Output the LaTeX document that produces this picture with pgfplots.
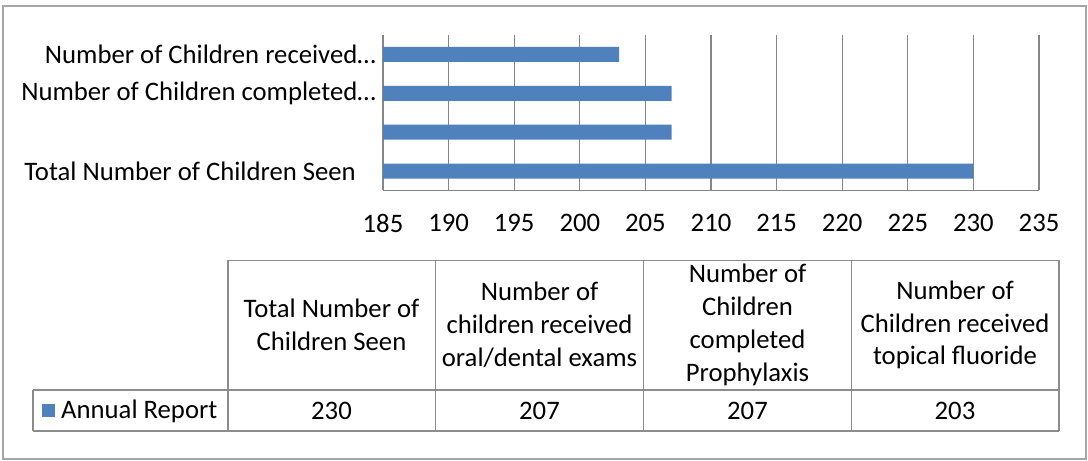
\documentclass[border=0pt]{standalone}
\usepackage{fontspec}
\setmainfont{Carlito}
\usepackage{pgfplots}
\pgfplotsset{compat=1.18}
\definecolor{barblue}{HTML}{4F81BD}
\definecolor{gridgray}{HTML}{868686}
\definecolor{tablegray}{HTML}{8C8C8C}
\definecolor{framegray}{HTML}{A6A6A6}
\newcommand\lbl{\fontsize{26.8}{33}\selectfont}

\begin{document}
\begin{tikzpicture}[x=1bp,y=-1bp]
\path (0,0) rectangle (1088,461);
\draw[framegray, line width=1.3bp] (3,6) rectangle (1086,459);
\begin{axis}[
  at={(383bp,-190.5bp)}, anchor=south west,
  scale only axis, width=656bp, height=155.5bp,
  xmin=185, xmax=235,
  xtick={185,190,195,200,205,210,215,220,225,230,235},
  ymin=-0.5, ymax=3.5, ytick=\empty,
  xmajorgrids, grid style={gridgray, line width=1.1bp},
  axis x line*=bottom, axis y line*=left,
  axis line style={gridgray, line width=1.1bp, -},
  major tick length=0,
  tick label style={font=\lbl},
  xticklabel style={yshift=-20bp},
  /pgf/number format/assume math mode=true,
  xbar, bar width=15bp,
]
\addplot[fill=barblue, draw=none] coordinates {(230,0) (207,1) (207,2) (203,3)};
\end{axis}

% category labels (Excel leaves the second one out)
\begin{scope}[every node/.style={anchor=east, inner sep=0pt, font=\lbl}]
\node at (376,54.4) {Number of Children received…};
\node at (376,93.3) {Number of Children completed…};
\node at (356,171) {Total Number of Children Seen};
\end{scope}

% data table
\begin{scope}[tablegray, line width=1.3bp]
\draw (228,260.5) -- (1059,260.5);
\draw (33,390) -- (1059,390);
\draw (33,431) -- (1059,431);
\draw (33,390) -- (33,431);
\foreach \x in {228,435.5,643.5,851.5,1059} \draw (\x,260.5) -- (\x,431);
\end{scope}
\begin{scope}[every node/.style={align=center, inner sep=0pt, font=\lbl}]
\node at (331.5,325) {Total Number of\\Children Seen};
\node at (539.5,325) {Number of\\children received\\oral/dental exams};
\node at (747.5,325) {Number of\\Children\\completed\\Prophylaxis};
\node at (955,325) {Number of\\Children received\\topical fluoride};
\node at (331.5,411) {230};
\node at (539.5,411) {207};
\node at (747.5,411) {207};
\node at (955,411) {203};
\end{scope}
\fill[barblue] (42,404) rectangle (55,417);
\node[anchor=west, inner sep=0pt, font=\lbl] at (61,411) {Annual Report};
\end{tikzpicture}
\end{document}
